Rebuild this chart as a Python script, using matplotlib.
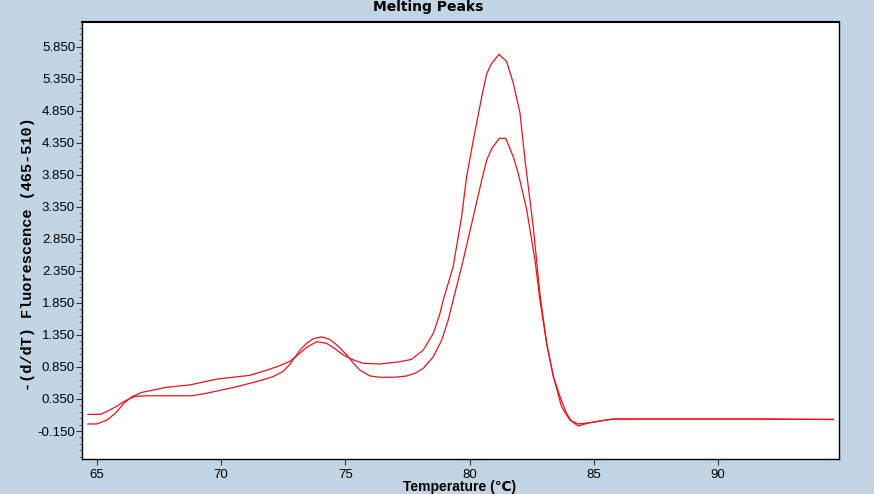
import numpy as np
import matplotlib
matplotlib.use("Agg")
import matplotlib.pyplot as plt
from matplotlib.ticker import FixedLocator, FormatStrFormatter

# sample 1 : lower shoulder, small main peak
temp1 = [64.65, 65.15, 65.48, 65.82, 66.15, 66.55, 67.0, 68.0, 68.8, 69.3, 69.83,
         70.5, 71.17, 71.7, 72.1, 72.5, 72.78, 73.18, 73.45, 73.71, 74.05, 74.38,
         74.7, 75.06, 75.35, 75.59, 76.0, 76.4, 77.0, 77.47, 77.8, 78.14, 78.54,
         78.88, 79.14, 79.34, 79.68, 80.15, 80.49, 80.69, 80.89, 81.2, 81.45,
         81.76, 81.96, 82.3, 82.63, 82.83, 83.1, 83.37, 83.7, 83.9, 84.04, 84.37,
         84.84, 85.5, 85.8, 87.0, 90.0, 92.0, 94.63]
deriv1 = [0.11, 0.11, 0.167, 0.24, 0.323, 0.39, 0.40, 0.40, 0.40, 0.43, 0.474,
          0.53, 0.595, 0.65, 0.70, 0.78, 0.896, 1.115, 1.22, 1.29, 1.32, 1.28,
          1.18, 1.037, 0.90, 0.80, 0.709, 0.689, 0.69, 0.709, 0.75, 0.829, 1.01,
          1.27, 1.583, 1.895, 2.415, 3.196, 3.77, 4.08, 4.26, 4.42, 4.42,
          4.13, 3.87, 3.30, 2.52, 1.895, 1.22, 0.70, 0.23, 0.10, 0.02, -0.04,
          -0.02, 0.022, 0.035, 0.035, 0.035, 0.035, 0.03]

# sample 2 : higher shoulder, tall main peak
temp2 = [64.65, 65.0, 65.41, 65.75, 66.09, 66.42, 66.82, 67.41, 67.76, 68.75,
         69.83, 70.5, 71.17, 71.84, 72.3, 72.78, 73.1, 73.45, 73.85, 74.25, 74.6,
         74.92, 75.32, 75.72, 76.4, 77.2, 77.67, 78.14, 78.54, 78.81, 78.94,
         79.34, 79.68, 79.88, 80.15, 80.49, 80.69, 80.89, 81.18, 81.49, 81.76,
         82.03, 82.23, 82.56, 82.83, 83.1, 83.37, 83.64, 83.9, 84.1, 84.37,
         84.84, 85.51, 85.78, 87.0, 90.0, 92.0, 94.63]
deriv2 = [-0.04, -0.04, 0.02, 0.126, 0.28, 0.385, 0.454, 0.50, 0.53, 0.57,
          0.66, 0.69, 0.72, 0.80, 0.86, 0.94, 1.04, 1.157, 1.244, 1.219, 1.13,
          1.037, 0.96, 0.907, 0.896, 0.932, 0.969, 1.115, 1.375, 1.687, 1.895,
          2.415, 3.196, 3.82, 4.39, 5.07, 5.43, 5.59, 5.73, 5.62, 5.28,
          4.81, 4.08, 3.04, 1.99, 1.219, 0.70, 0.385, 0.126, 0.0, -0.07,
          -0.02, 0.022, 0.037, 0.037, 0.037, 0.037, 0.03]

x_ticks = [65, 70, 75, 80, 85, 90]
y_ticks = [-0.15, 0.35, 0.85, 1.35, 1.85, 2.35, 2.85, 3.35, 3.85, 4.35, 4.85, 5.35, 5.85]

bg = '#c1d5e5'
line_col = '#e8141c'

fig = plt.figure(figsize=(8.74, 4.94), dpi=100, facecolor=bg)
ax = fig.add_axes([82/874, 1 - 459/494, (839 - 82)/874, (459 - 22)/494])
ax.set_facecolor('white')

ax.plot(temp1, deriv1, color=line_col, lw=0.9)
ax.plot(temp2, deriv2, color=line_col, lw=0.9)

ax.set_xlim(64.41, 94.86)
ax.set_ylim(-0.587, 6.236)

ax.xaxis.set_major_locator(FixedLocator(x_ticks))
ax.yaxis.set_major_locator(FixedLocator(y_ticks))
ax.yaxis.set_minor_locator(FixedLocator(np.arange(-0.55, 6.2, 0.1)))
ax.yaxis.set_major_formatter(FormatStrFormatter('%.3f'))

ax.tick_params(axis='both', which='major', direction='out', length=4, width=0.8,
               labelsize=9.5, pad=1, colors='#333333', labelcolor='black')
ax.tick_params(axis='x', pad=3)
ax.tick_params(axis='y', which='minor', direction='out', length=2, width=0.6, colors='#555555')
for lab in ax.get_xticklabels() + ax.get_yticklabels():
    lab.set_family('Liberation Sans')

for sp in ax.spines.values():
    sp.set_color('black')
    sp.set_linewidth(1.0)
ax.spines['top'].set_linewidth(1.5)

fig.text(428/874, 1 - 11/494, 'Melting Peaks', ha='center', va='baseline',
         fontsize=10, fontweight='bold', family='DejaVu Sans')
fig.text(460/874, 1 - 491/494, 'Temperature (℃)', ha='center', va='baseline',
         fontsize=10, fontweight='bold', family=['Liberation Sans', 'DejaVu Sans'])
fig.text(28/874, 240/494, '-(d/dT) Fluorescence (465-510)', rotation=90,
         ha='center', va='center', fontsize=11, fontweight='bold',
         family='Liberation Mono')

fig.savefig('out.png', dpi=100, facecolor=bg)
